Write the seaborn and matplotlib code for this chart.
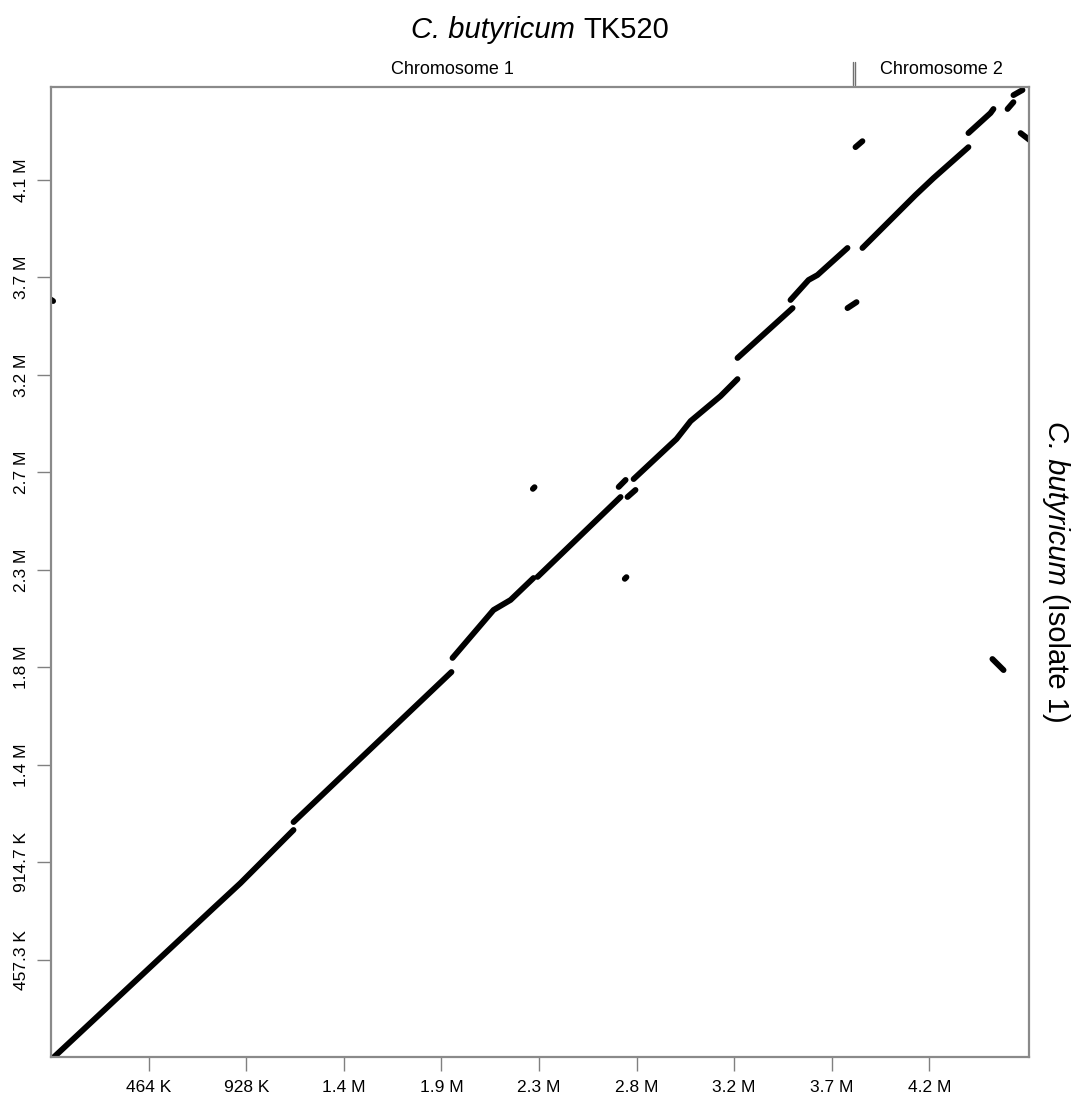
import matplotlib
matplotlib.use("Agg")
import matplotlib.pyplot as plt
import seaborn as sns
import pandas as pd

# ---- data (bp) ----
aln_ids = ["A"]*4 + ["B"]*2 + ["C"]*4 + ["D"]*2 + ["E"]*2 + ["F"]*2 + ["G"]*5 + ["H"]*2 + \
          ["I"]*4 + ["J"]*4 + ["K"]*3 + ["L"]*2 + ["M"]*2 + ["N"]*2 + ["O"]*2 + ["P"]*2 + \
          ["Q"]*2 + ["R"]*2 + ["S"]*2 + ["T"]*2
ref_pos = [12e3, 773e3, 901e3, 1153e3,
           1153e3, 1904e3,
           1909e3, 2104e3, 2185e3, 2294e3,
           2313e3, 2708e3,
           2699e3, 2732e3,
           2741e3, 2779e3,
           2770e3, 2974e3, 3041e3, 3183e3, 3264e3,
           3264e3, 3526e3,
           3516e3, 3602e3, 3644e3, 3787e3,
           3858e3, 4110e3, 4196e3, 4362e3,
           4362e3, 4467e3, 4481e3,
           4548e3, 4576e3,
           4576e3, 4619e3,
           4610e3, 4660e3,
           3825e3, 3858e3,
           3787e3, 3830e3,
           2291e3, 2299e3,
           2728e3, 2736e3,
           4476e3, 4529e3,
           -12e3, 10e3]
qry_pos = [0, 701e3, 818e3, 1067e3,
           1104e3, 1808e3,
           1874e3, 2099e3, 2146e3, 2249e3,
           2254e3, 2629e3,
           2676e3, 2709e3,
           2629e3, 2662e3,
           2713e3, 2901e3, 2985e3, 3102e3, 3182e3,
           3281e3, 3515e3,
           3553e3, 3647e3, 3670e3, 3797e3,
           3797e3, 4045e3, 4125e3, 4270e3,
           4336e3, 4430e3, 4449e3,
           4449e3, 4481e3,
           4514e3, 4538e3,
           4336e3, 4298e3,
           4270e3, 4298e3,
           3515e3, 3543e3,
           2667e3, 2675e3,
           2245e3, 2253e3,
           1869e3, 1817e3,
           3562e3, 3548e3]

x_ticks = [464000*k for k in range(1, 10)]
x_labels = ["464 K", "928 K", "1.4 M", "1.9 M", "2.3 M", "2.8 M", "3.2 M", "3.7 M", "4.2 M"]
y_ticks = [457333*k for k in range(1, 10)]
y_labels = ["457.3 K", "914.7 K", "1.4 M", "1.8 M", "2.3 M", "2.7 M", "3.2 M", "3.7 M", "4.1 M"]
chrom_names = ["Chromosome 1", "Chromosome 2"]
chrom_bounds = [0, 3820000, 4650000]
x_max = 4650000
y_max = 4552000
species = "C. butyricum"
title_strain = "TK520"
y_strain = "(Isolate 1)"

df = pd.DataFrame({"aln": aln_ids, "ref": ref_pos, "qry": qry_pos})

sns.set_theme(style="white")
plt.rcParams["font.family"] = ["Liberation Sans", "DejaVu Sans"]
plt.rcParams["text.color"] = "black"
plt.rcParams["xtick.color"] = "black"
plt.rcParams["ytick.color"] = "black"

W, H = 1081, 1103
fig = plt.figure(figsize=(W/100, H/100), dpi=100)
ax = fig.add_axes([0.0472, 0.0413, 0.9047, 0.8798])

sns.lineplot(data=df, x="ref", y="qry", units="aln", estimator=None, sort=False,
             color="black", linewidth=4.2, solid_capstyle="round", ax=ax, legend=False)

ax.set_xlim(0, x_max)
ax.set_ylim(0, y_max)
ax.set_xticks(x_ticks)
ax.set_xticklabels(x_labels, fontsize=12.5)
ax.set_yticks(y_ticks)
ax.set_yticklabels(y_labels, fontsize=12.5, rotation=90, va="center")
ax.set_xlabel("")
ax.set_ylabel("")
ax.tick_params(axis="both", which="major", direction="out", length=10, width=1.0,
               color="#808080", bottom=True, left=True, pad=6, labelcolor="black")
for s in ax.spines.values():
    s.set_color("#8a8a8a")
    s.set_linewidth(1.6)

# title & right label built from italic + upright pieces
fs = 21
gap = 0.278 * fs * 100 / 72  # space width in px
r = fig.canvas.get_renderer()

t1 = fig.text(0, 0, species, fontstyle="italic", fontsize=fs, ha="center", va="center")
t2 = fig.text(0, 0, title_strain, fontsize=fs, ha="center", va="center")
w1 = t1.get_window_extent(r).width
w2 = t2.get_window_extent(r).width
cx, cy = 540, H - 30
x0 = cx - (w1 + gap + w2) / 2
t1.set_position(((x0 + w1/2) / W, cy / H))
t2.set_position(((x0 + w1 + gap + w2/2) / W, cy / H))

r1 = fig.text(0, 0, species, fontstyle="italic", fontsize=fs, ha="center", va="center", rotation=270)
r2 = fig.text(0, 0, y_strain, fontsize=fs, ha="center", va="center", rotation=270)
h1 = r1.get_window_extent(r).height
h2 = r2.get_window_extent(r).height
rx, ry = 1056, H - 572
ytop = ry + (h1 + gap + h2) / 2
r1.set_position((rx / W, (ytop - h1/2) / H))
r2.set_position((rx / W, (ytop - h1 - gap - h2/2) / H))

# chromosome labels and boundary
tr = ax.get_xaxis_transform()
for i, name in enumerate(chrom_names):
    mid = (chrom_bounds[i] + chrom_bounds[i+1]) / 2
    ax.text(mid, 1.018, name, transform=tr, ha="center", va="center", fontsize=13)
b = chrom_bounds[1]
for dx in (-5000, 5000):
    ax.plot([b + dx, b + dx], [1.002, 1.026], transform=tr, color="#707070",
            linewidth=1.0, clip_on=False)

fig.savefig("out.png", dpi=100, facecolor="white")
